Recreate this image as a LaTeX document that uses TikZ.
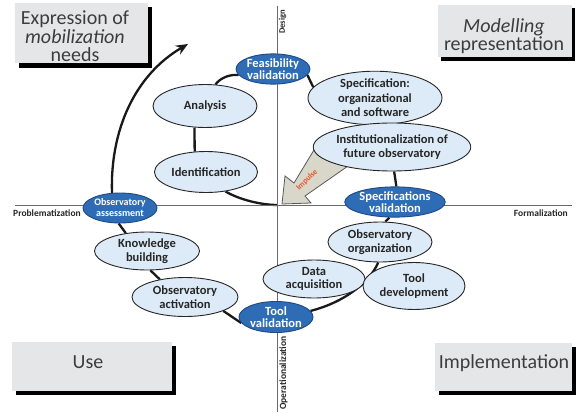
\documentclass[tikz,border=0pt]{standalone}
\usepackage{fontspec}
\setmainfont{Carlito}
\usetikzlibrary{shapes.geometric,arrows.meta,backgrounds}
\definecolor{lblue}{HTML}{DCEBF7}
\definecolor{dblue}{HTML}{2E6DB6}
\definecolor{dblueline}{HTML}{1C4A85}
\definecolor{boxgray}{HTML}{E5E6E8}
\definecolor{txt}{HTML}{262626}
\definecolor{axisgray}{HTML}{6A6A6A}
\definecolor{impfill}{HTML}{D9D7CA}
\definecolor{imptext}{HTML}{E2582B}
\begin{document}
\begin{tikzpicture}[x=1pt,y=-1pt,
  light/.style={ellipse, draw=black!85, line width=0.9pt, fill=lblue, inner sep=0pt,
    align=center, text=txt, font=\bfseries\fontsize{12.5}{13.5}\selectfont},
  dark/.style={ellipse, draw=dblueline, line width=0.9pt, fill=dblue, inner sep=0pt,
    align=center, text=white, font=\bfseries\fontsize{12.5}{12.5}\selectfont},
  loopline/.style={line width=2.3pt, black!90},
  quadtext/.style={inner sep=0pt, align=center, text=txt!90, font=\fontsize{20}{18.5}\selectfont},
  axislabel/.style={inner sep=0pt, text=txt, font=\bfseries\fontsize{9.5}{10}\selectfont},
]
\useasboundingbox (0,0) rectangle (577,412);

% axes
\coordinate (ytop) at (277.5,6);
\coordinate (ybot) at (277.5,412);
\coordinate (xl) at (15,205);
\coordinate (xr) at (572,205);
\coordinate (O) at (277.5,205);
\draw[axisgray, line width=0.9pt] (ytop) -- (ybot);
\draw[axisgray, line width=0.9pt] (xl) -- (xr);

% quadrant boxes
\fill[black] (18.5,7) rectangle (152,67.5);
\fill[boxgray] (15,3) rectangle (148,63);
\fill[black] (441,8) rectangle (575,60.5);
\fill[boxgray] (438,5) rectangle (572,57);
\fill[black] (15.5,346) rectangle (176,395);
\fill[boxgray] (12,342) rectangle (172,391);
\fill[black] (438.5,347) rectangle (575.5,395);
\fill[boxgray] (435,343) rectangle (572,391);

\node[quadtext] (qtl) at (75,36.5) {Expression of\\\textit{mobilization}\\needs};
\node[quadtext] (qtr) at (504,36) {\textit{Modelling}\\representation};
\node[quadtext] (qbl) at (88,362.5) {Use};
\node[quadtext] (qbr) at (504,363) {Implementation};

% axis labels
\node[axislabel, anchor=west] (prob) at (13,213) {Problematization};
\node[axislabel, anchor=east] (form) at (568,213) {Formalization};
\node[axislabel, rotate=90, font=\bfseries\fontsize{8.5}{9}\selectfont] (des) at (282.5,22) {Design};
\node[axislabel, rotate=90] (oper) at (283.5,373) {Operationalization};

% impulse arrow
\draw[fill=impfill, draw=black!65, line width=0.8pt, line join=miter]
  (282,204) -- (285,176) -- (294,183) -- (320,140) -- (327,154) -- (334,150)
  -- (348,166) -- (305,196) -- (311,203) -- cycle;
\node[rotate=45, inner sep=0pt, text=imptext, font=\bfseries\fontsize{8}{9}\selectfont] (imp) at (307,180) {Impulse};

% nodes
\node[light, minimum width=104pt, minimum height=43pt] (an) at (205,106) {Analysis};
\node[light, minimum width=103pt, minimum height=41pt] (id) at (206,172) {Identification};
\node[dark, minimum width=64pt, minimum height=28pt] (fv) at (273,69) {Feasibility\\validation};
\node[light, minimum width=134pt, minimum height=47pt, font=\bfseries\fontsize{12.5}{14.5}\selectfont] (sp) at (375,98) {Specification:\\organizational\\and software};
\node[light, minimum width=140pt, minimum height=48pt] (inst) at (392,147) {Institutionalization of\\future observatory};
\node[dark, minimum width=84pt, minimum height=30pt] (sv) at (395,202) {Specifications\\validation};
\node[light, minimum width=104pt, minimum height=40pt] (oo) at (380,242) {Observatory\\organization};
\node[light, minimum width=102pt, minimum height=38pt] (da) at (314,279) {Data\\acquisition};
\node[light, minimum width=102pt, minimum height=47pt] (td) at (414,286) {Tool\\development};
\node[dark, minimum width=74pt, minimum height=31pt] (tv) at (276,317) {Tool\\validation};
\node[light, minimum width=106pt, minimum height=39pt] (oact) at (185,297) {Observatory\\activation};
\node[light, minimum width=105pt, minimum height=38pt] (kb) at (147,251) {Knowledge\\building};
\node[dark, minimum width=74pt, minimum height=30pt, font=\bfseries\fontsize{10}{11}\selectfont] (oa) at (120,208) {Observatory\\assessment};

\coordinate (tipc) at (188,44);

\begin{scope}[on background layer]
\draw[loopline] (an.244) -- (id.119);
\draw[loopline] (id.-45) .. controls (240,200) and (262,205) .. (O);
\draw[loopline] (an.64) .. controls (220,78) and (230,74) .. (fv.190);
\draw[loopline] (fv.-10) -- (sp.170);
\draw[loopline] (sp.260) -- (inst.115);
\draw[loopline] (inst.-85) -- (sv.85);
\draw[loopline] (sv.250) -- (oo.75);
\draw[loopline] (oo.-95) .. controls (370,282) and (345,302) .. (tv.10);
\draw[loopline] (tv.190) -- (oact.-20);
\draw[loopline] (kb.-80) -- (oact.145);
\draw[loopline] (oa.265) -- (kb.140);
\end{scope}
\draw[loopline, -{Stealth[length=12pt,width=10pt]}] (oa.118) .. controls (110,130) and (135,75) .. (tipc);
\end{tikzpicture}
\end{document}
